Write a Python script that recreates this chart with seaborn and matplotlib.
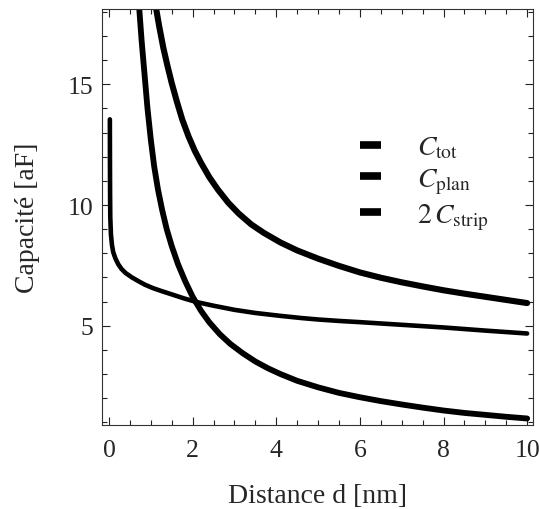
import matplotlib
matplotlib.use("Agg")
import matplotlib.pyplot as plt
import seaborn as sns
import pandas as pd
from matplotlib.lines import Line2D
from matplotlib.ticker import MultipleLocator

# ---- data ----
d_tot = [1.12, 1.20, 1.30, 1.40, 1.50, 1.62, 1.75, 1.90, 2.05, 2.20, 2.40, 2.60, 2.85, 3.10, 3.40,
         3.70, 4.10, 4.50, 5.00, 5.50, 6.00, 6.50, 7.00, 7.50, 8.00, 8.50, 9.00, 9.50, 10.0]
c_tot = [18.2, 17.4, 16.5, 15.75, 15.05, 14.3, 13.55, 12.85, 12.25, 11.75, 11.15, 10.65, 10.1, 9.65, 9.2,
         8.85, 8.45, 8.12, 7.78, 7.48, 7.21, 6.99, 6.80, 6.63, 6.47, 6.33, 6.20, 6.07, 5.94]

d_plan = [0.72, 0.78, 0.85, 0.92, 1.00, 1.08, 1.17, 1.27, 1.38, 1.50, 1.65, 1.82, 2.00, 2.20, 2.40,
          2.65, 2.90, 3.20, 3.50, 3.80, 4.10, 4.50, 5.00, 5.50, 6.00, 6.50, 7.00, 7.50, 8.00, 8.50,
          9.00, 9.50, 10.0]
c_plan = [18.2, 16.8, 15.4, 14.0, 12.7, 11.6, 10.65, 9.8, 9.0, 8.3, 7.55, 6.85, 6.2, 5.62, 5.14,
          4.65, 4.25, 3.86, 3.52, 3.24, 3.0, 2.72, 2.45, 2.22, 2.04, 1.88, 1.74, 1.61, 1.49, 1.39,
          1.31, 1.23, 1.16]

d_strip = [0.020, 0.022, 0.025, 0.030, 0.045, 0.07, 0.10, 0.15, 0.22, 0.30, 0.40, 0.55, 0.70, 0.86,
           1.05, 1.25, 1.50, 1.80, 2.10, 2.50, 3.00, 3.50, 4.10, 4.60, 5.00, 5.50, 6.00, 7.00, 8.00,
           9.00, 10.0]
c_strip = [13.55, 12.0, 10.5, 9.5, 8.8, 8.35, 8.05, 7.8, 7.55, 7.35, 7.18, 7.0, 6.85, 6.7,
           6.56, 6.44, 6.3, 6.13, 5.98, 5.83, 5.66, 5.53, 5.41, 5.32, 5.26, 5.2, 5.15, 5.04, 4.93,
           4.80, 4.68]

labels = [r"$C_{\mathrm{tot}}$", r"$C_{\mathrm{plan}}$", r"$2\,C_{\mathrm{strip}}$"]
x_label = "Distance d [nm]"
y_label = "Capacité [aF]"

sns.set_style("ticks")
plt.rcParams["font.family"] = ["Liberation Serif", "DejaVu Serif"]
plt.rcParams["mathtext.fontset"] = "stix"

fig = plt.figure(figsize=(5.39, 5.10), dpi=100)
ax = fig.add_axes([101.5 / 539, 1 - 426 / 510, (533 - 101.5) / 539, (426 - 10) / 510])

df_tot = pd.DataFrame({"d": d_tot, "c": c_tot})
df_plan = pd.DataFrame({"d": d_plan, "c": c_plan})
df_strip = pd.DataFrame({"d": d_strip, "c": c_strip})

kw = dict(ax=ax, color="black", sort=False, estimator=None)
sns.lineplot(data=df_tot, x="d", y="c", lw=4.4, **kw)
sns.lineplot(data=df_plan, x="d", y="c", lw=4.2, **kw)
sns.lineplot(data=df_strip, x="d", y="c", lw=3.3, **kw)
for ln in ax.get_lines():
    ln.set_solid_joinstyle("round")

ax.set_xlim(-0.18, 10.14)
ax.set_ylim(0.89, 18.12)
ax.xaxis.set_major_locator(MultipleLocator(2))
ax.xaxis.set_minor_locator(MultipleLocator(0.5))
ax.yaxis.set_major_locator(MultipleLocator(5))
ax.yaxis.set_minor_locator(MultipleLocator(1))
ax.tick_params(which="both", direction="in", top=True, right=True, width=0.8, color="#222222")
ax.tick_params(which="major", length=6, labelsize=18.5)
ax.tick_params(which="minor", length=3.5)
ax.tick_params(axis="x", pad=10)
ax.tick_params(axis="y", pad=6)
for s in ax.spines.values():
    s.set_linewidth(0.8)
    s.set_color("#333333")

ax.set_xlabel(x_label, fontsize=20, labelpad=16)
ax.set_ylabel(y_label, fontsize=20, labelpad=20)

handles = [Line2D([], [], color="black", lw=5.5, solid_capstyle="butt") for _ in labels]
ax.legend(handles, labels, loc="upper left", bbox_to_anchor=(360 / 539, 1 - 136 / 510),
          bbox_transform=fig.transFigure, frameon=False, fontsize=20,
          handlelength=0.75, handletextpad=1.3, labelspacing=0.2, borderpad=0, borderaxespad=0)

fig.savefig("out.png", dpi=100)
